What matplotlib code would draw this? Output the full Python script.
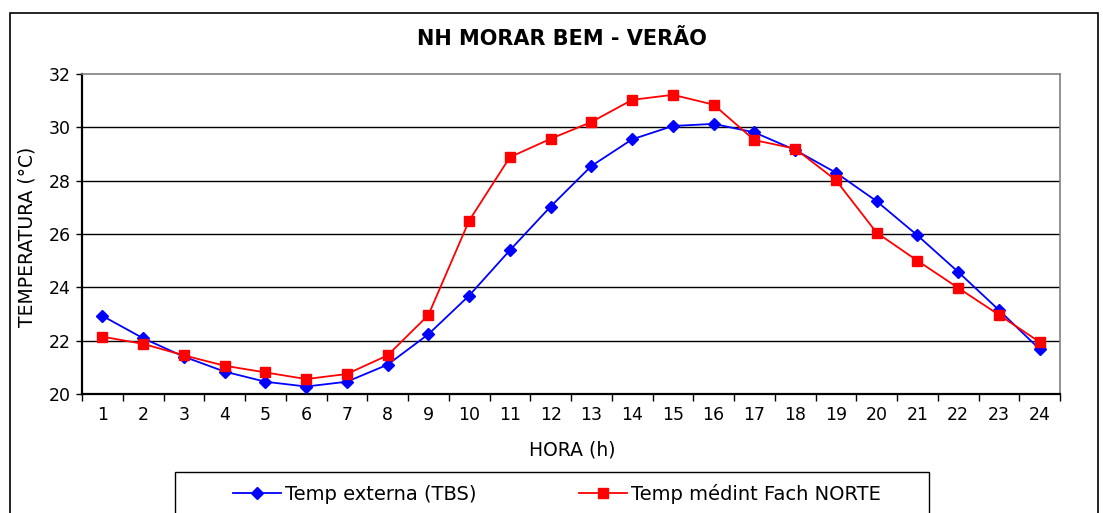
import matplotlib
matplotlib.use("Agg")
import matplotlib.pyplot as plt
from matplotlib.patches import Rectangle
from matplotlib.ticker import FixedLocator, NullFormatter

hours = list(range(1, 25))
temp_externa = [22.93, 22.09, 21.40, 20.84, 20.46, 20.28, 20.46, 21.10, 22.24, 23.69,
                25.39, 27.03, 28.55, 29.55, 30.05, 30.13, 29.81, 29.15, 28.30, 27.23,
                25.95, 24.58, 23.15, 21.68]
temp_norte = [22.15, 21.88, 21.45, 21.06, 20.81, 20.56, 20.75, 21.45, 22.96, 26.50,
              28.88, 29.57, 30.20, 31.03, 31.22, 30.85, 29.52, 29.20, 28.02, 26.05,
              25.00, 23.98, 22.97, 21.95]
y_ticks = [20, 22, 24, 26, 28, 30, 32]

title = "NH MORAR BEM - VERÃO"
xlabel = "HORA (h)"
ylabel = "TEMPERATURA (°C)"
label_ext = "Temp externa (TBS)"
label_norte = "Temp médint Fach NORTE"

W, H = 1103, 513
fig = plt.figure(figsize=(W / 100, H / 100), dpi=100)
ax = fig.add_axes([82 / W, 1 - 394 / H, (1060 - 82) / W, (394 - 74) / H])

ax.plot(hours, temp_externa, color="#0000FF", lw=1.3, marker="D", markersize=6.5,
        label=label_ext, zorder=3)
ax.plot(hours, temp_norte, color="#FF0000", lw=1.3, marker="s", markersize=7,
        label=label_norte, zorder=4)

ax.set_xlim(0.5, 24.5)
ax.set_ylim(20, 32)
ax.set_yticks(y_ticks)
for y in y_ticks[1:-1]:
    ax.axhline(y, color="black", lw=1.0, zorder=1)

ax.xaxis.set_major_locator(FixedLocator([h - 0.5 for h in hours] + [24.5]))
ax.xaxis.set_major_formatter(NullFormatter())
ax.xaxis.set_minor_locator(FixedLocator(hours))
ax.set_xticklabels([str(h) for h in hours], minor=True)
ax.tick_params(axis="x", which="major", direction="out", length=5, width=1, color="black")
ax.tick_params(axis="x", which="minor", length=0, pad=9, labelsize=12.5)
ax.tick_params(axis="y", direction="out", length=4, width=1, pad=4, labelsize=12.5)

for s in ["left", "bottom"]:
    ax.spines[s].set_color("black")
    ax.spines[s].set_linewidth(1.6)
for s in ["top", "right"]:
    ax.spines[s].set_color("#808080")
    ax.spines[s].set_linewidth(1.2)

fig.text(562 / W, 1 - 39 / H, title, ha="center", va="center", fontsize=15, fontweight="bold")
fig.text(572 / W, 1 - 450 / H, xlabel, ha="center", va="center", fontsize=13.5)
fig.text(27 / W, 1 - 237 / H, ylabel, ha="center", va="center", fontsize=13.5, rotation=90)

# figure border
fig.patches.append(Rectangle((10 / W, -0.05), (1098 - 10) / W, 1 - 13 / H + 0.05,
                             transform=fig.transFigure, fill=False, edgecolor="black",
                             lw=1.2, clip_on=False))
# legend box
fig.patches.append(Rectangle((175 / W, -0.05), (929 - 175) / W, 1 - 472 / H + 0.05,
                             transform=fig.transFigure, fill=False, edgecolor="black",
                             lw=1.0, clip_on=False))
fig.legend(loc="center", bbox_to_anchor=(557 / W, 1 - 494 / H), ncol=2, frameon=False,
           fontsize=14, handlelength=2.45, handletextpad=0.2, columnspacing=5.3,
           markerscale=0.95, borderpad=0, borderaxespad=0)

fig.savefig("out.png", dpi=100)
